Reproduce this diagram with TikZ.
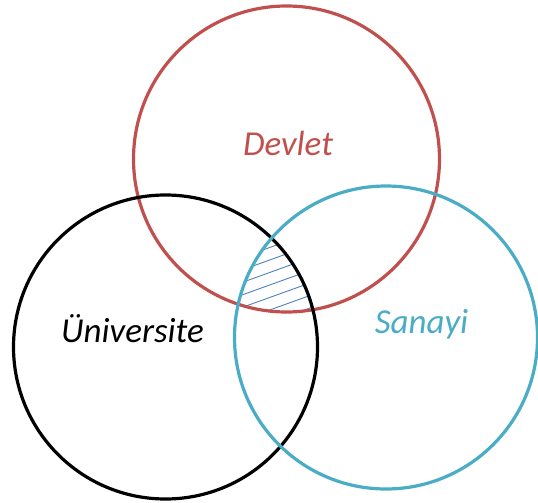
\documentclass[tikz,border=0pt]{standalone}
\usepackage{fontspec}
\setmainfont{Carlito}
\definecolor{cred}{RGB}{192,80,77}
\definecolor{cblue}{RGB}{75,172,198}
\definecolor{chatch}{RGB}{79,129,189}
\begin{document}
\begin{tikzpicture}[x=1pt,y=-1pt,
  ring/.style={line width=3.2pt},
  lbl/.style={anchor=base,inner sep=0pt,font=\fontsize{35}{42}\selectfont\itshape},
  hatchline/.style={chatch,line width=0.9pt}]
\useasboundingbox (0,0) rectangle (538,503);
\coordinate (cD) at (286.5,159);
\coordinate (cU) at (165.5,347);
\coordinate (cS) at (386,337.5);
\begin{scope}
  \clip (cD) circle[radius=153];
  \clip (cU) circle[radius=152];
  \clip (cS) circle[radius=151.5];
  \foreach \i in {-6,...,8}{
    \draw[hatchline] (180,{266+12.5*\i+0.36*73}) -- (340,{266+12.5*\i-0.36*87});
  }
\end{scope}
\draw[ring,cred] (cD) circle[radius=153];
\draw[ring,black] (cU) circle[radius=152];
\draw[ring,cblue] (cS) circle[radius=151.5];
\node[lbl,cred] (devlet) at (288,155) {Devlet};
\node[lbl,black] (univ) at (132.5,342) {Üniversite};
\node[lbl,cblue] (sanayi) at (421.5,333) {Sanayi};
\end{tikzpicture}
\end{document}
